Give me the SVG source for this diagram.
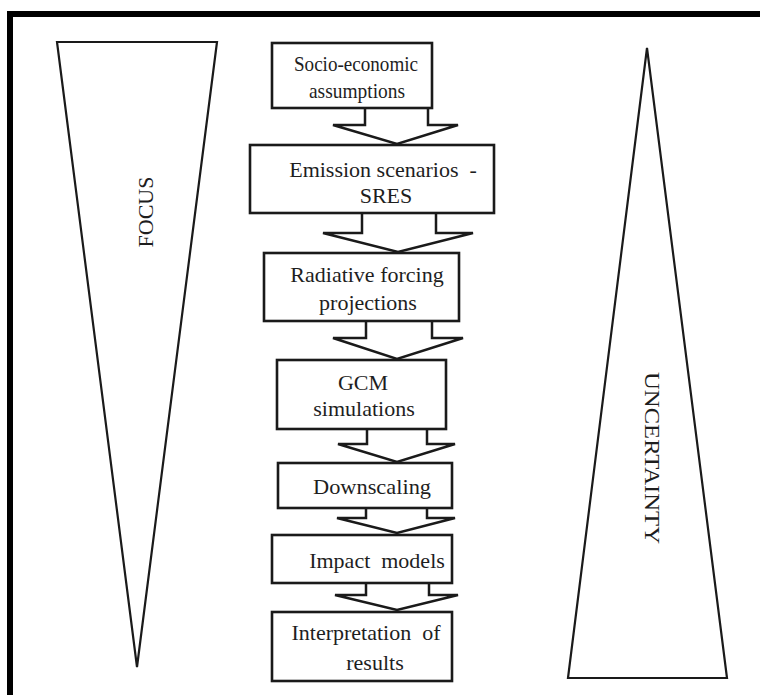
<svg xmlns="http://www.w3.org/2000/svg" width="760" height="695" viewBox="0 0 760 695">
<style>
.frame{stroke:#000;stroke-width:6;fill:none}
.tri{fill:#fff;stroke:#1a1a1a;stroke-width:2.2;stroke-linejoin:miter}
.box{fill:#fff;stroke:#1a1a1a;stroke-width:2.6}
.arrow{fill:#fff;stroke:#1a1a1a;stroke-width:2.5;stroke-linejoin:miter}
.t{font-family:"Liberation Serif","Times New Roman",serif;font-size:22px;fill:#1e1e1e;text-anchor:middle}
.side{font-family:"Liberation Serif","Times New Roman",serif;font-size:22px;fill:#1e1e1e;text-anchor:middle}
</style>
<rect width="760" height="695" fill="#fff"/>
<path class="frame" d="M10,695 V14 H760"/>
<g id="focus">
<polygon class="tri" points="57,42 217,42 137,667"/>
<text class="side" transform="translate(153,212) rotate(-90)">FOCUS</text>
</g>
<g id="uncertainty">
<polygon class="tri" points="647,48 727,678 568,678"/>
<text class="side" transform="translate(645,458) rotate(90)" textLength="172" lengthAdjust="spacingAndGlyphs">UNCERTAINTY</text>
</g>
<g id="connectors">
<path class="arrow" d="M365,108 V125 H333 L397,144 L458,125 H428 V108"/>
<path class="arrow" d="M362,213 V233 H323 L398,252 L473,233 H436 V213"/>
<path class="arrow" d="M366,321 V338 H333 L397,359 L463,338 H432 V321"/>
<path class="arrow" d="M367,429 V444 H338 L397,462 L455,444 H427 V429"/>
<path class="arrow" d="M366,508 V518 H337 L397,533 L455,518 H427 V508"/>
<path class="arrow" d="M366,583 V595 H335 L397,610 L458,595 H429 V583"/>
</g>
<g id="n1">
<rect class="box" x="272" y="43" width="160" height="65"/>
<text class="t" x="356" y="71" textLength="124" lengthAdjust="spacingAndGlyphs">Socio-economic</text>
<text class="t" x="357" y="98" textLength="96" lengthAdjust="spacingAndGlyphs">assumptions</text>
</g>
<g id="n2">
<rect class="box" x="250" y="145" width="244" height="68"/>
<text class="t" x="383" y="177" xml:space="preserve">Emission scenarios  -</text>
<text class="t" x="386" y="203">SRES</text>
</g>
<g id="n3">
<rect class="box" x="264" y="253" width="195" height="68"/>
<text class="t" x="367" y="282">Radiative forcing</text>
<text class="t" x="368" y="310">projections</text>
</g>
<g id="n4">
<rect class="box" x="277" y="360" width="169" height="69"/>
<text class="t" x="363" y="390">GCM</text>
<text class="t" x="364" y="416">simulations</text>
</g>
<g id="n5">
<rect class="box" x="278" y="463" width="174" height="45"/>
<text class="t" x="372" y="494" textLength="118" lengthAdjust="spacingAndGlyphs">Downscaling</text>
</g>
<g id="n6">
<rect class="box" x="272" y="535" width="180" height="48"/>
<text class="t" x="377" y="568" xml:space="preserve">Impact  models</text>
</g>
<g id="n7">
<rect class="box" x="272" y="612" width="180" height="69" stroke-width="3.4"/>
<text class="t" x="366" y="640" xml:space="preserve">Interpretation  of</text>
<text class="t" x="375" y="670">results</text>
</g>
</svg>
